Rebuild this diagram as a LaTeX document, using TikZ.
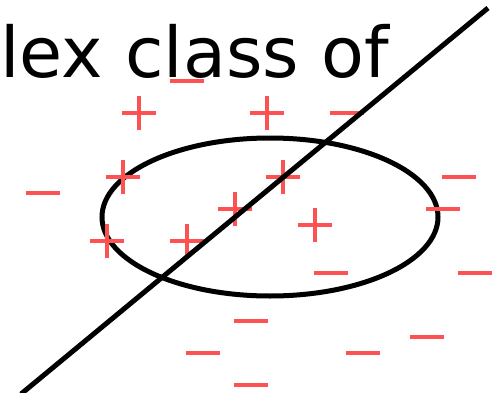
\documentclass[tikz,border=0pt]{standalone}
\usepackage{fontspec}
\setmainfont{DejaVu Sans}
\usetikzlibrary{shapes.geometric}
\definecolor{markred}{RGB}{252,82,82}
\tikzset{
  pmark/.style={minimum size=34pt, inner sep=0pt, path picture={
      \draw[markred, line width=4pt]
        (path picture bounding box.north) -- (path picture bounding box.south)
        (path picture bounding box.west) -- (path picture bounding box.east);}},
  mmark/.style={minimum width=34pt, minimum height=4.5pt, inner sep=0pt, fill=markred},
  sep/.style={line width=5pt, black},
  ttl/.style={font=\fontsize{70}{80}\selectfont, anchor=base west, inner sep=0pt},
}
\begin{document}
\begin{tikzpicture}[x=1pt, y=-1pt]
\useasboundingbox (0,0) rectangle (492,393);
\node[ttl] (title) at (0,78) {lex class of};
% region
\node[draw, ellipse, line width=5pt, minimum width=336pt, minimum height=158pt] (reg) at (270,217) {};
% positives
\node[pmark] (p1) at (139,113) {};
\node[pmark] (p2) at (267,113) {};
\node[pmark] (p3) at (123,177) {};
\node[pmark] (p4) at (283,177) {};
\node[pmark] (p5) at (235,209) {};
\node[pmark] (p6) at (315,225) {};
\node[pmark] (p7) at (107,241) {};
\node[pmark] (p8) at (187,241) {};
% negatives
\node[mmark] (n1) at (187,81) {};
\node[mmark] (n2) at (347,113) {};
\node[mmark] (n3) at (43,193) {};
\node[mmark] (n4) at (459,177) {};
\node[mmark] (n5) at (443,209) {};
\node[mmark] (n6) at (331,273) {};
\node[mmark] (n7) at (475,273) {};
\node[mmark] (n8) at (251,321) {};
\node[mmark] (n9) at (427,337) {};
\node[mmark] (n10) at (203,353) {};
\node[mmark] (n11) at (363,353) {};
\node[mmark] (n12) at (251,385) {};
% separator
\coordinate (lo) at (21,394);
\coordinate (hi) at (488,8);
\draw[sep] (lo) -- (hi);
\end{tikzpicture}
\end{document}
